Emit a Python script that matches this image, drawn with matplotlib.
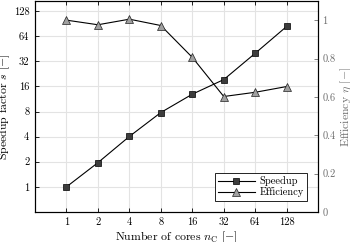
import matplotlib
matplotlib.use('Agg')
import matplotlib.pyplot as plt

plt.rcParams['font.family'] = 'serif'
plt.rcParams['font.serif'] = ['cmr10']
plt.rcParams['mathtext.fontset'] = 'cm'
plt.rcParams['axes.unicode_minus'] = False
plt.rcParams['axes.formatter.use_mathtext'] = True

cores = [1, 2, 4, 8, 16, 32, 64, 128]
speedup = [1.0, 1.95, 4.02, 7.78, 12.9, 19.3, 39.9, 83.7]
efficiency = [1.0, 0.976, 1.005, 0.972, 0.806, 0.602, 0.624, 0.654]
speed_ticks = [1, 2, 4, 8, 16, 32, 64, 128]
eff_ticks = [0, 0.2, 0.4, 0.6, 0.8, 1]
eff_labels = ['0', '0.2', '0.4', '0.6', '0.8', '1']

grey = '#6e6e6e'

fig = plt.figure(figsize=(3.5, 2.42), dpi=100)
ax = fig.add_axes([0.1, 0.124, 0.809, 0.872])
ax2 = ax.twinx()

l1, = ax.plot(cores, speedup, color='black', lw=0.8, marker='s', ms=4,
              mfc='#3c3c3c', mec='black', mew=0.5, label='Speedup')
l2, = ax2.plot(cores, efficiency, color='black', lw=0.8, marker='^', ms=5.5,
               mfc='#a0a0a0', mec='#202020', mew=0.5, label='Efficiency')

ax.set_xscale('log', base=2)
ax.set_yscale('log', base=2)
ax.set_xlim(0.5, 256)
ax.set_ylim(0.5, 2 ** 7.4)
ax.set_xticks(cores)
ax.set_xticklabels([str(c) for c in cores])
ax.set_yticks(speed_ticks)
ax.set_yticklabels([str(s) for s in speed_ticks])
ax.minorticks_off()
ax.grid(True, color='#e3e3e3', lw=0.8)
ax.set_axisbelow(True)
ax.tick_params(direction='in', length=3, width=0.6, labelsize=7.5, top=True, pad=4)

ax2.set_ylim(0, 1.1)
ax2.set_yticks(eff_ticks)
ax2.set_yticklabels(eff_labels)
ax2.tick_params(direction='in', length=3, width=0.6, labelsize=7.5, colors=grey, pad=3)

for a in (ax, ax2):
    for s in a.spines.values():
        s.set_linewidth(0.8)

ax.set_xlabel(r'Number of cores $n_{\mathrm{C}}$ $[-]$', fontsize=8.5, labelpad=2)
ax.set_ylabel(r'Speedup factor $s$ $[-]$', fontsize=8.5, labelpad=1)
ax2.set_ylabel(r'Efficiency $\eta$ $[-]$', fontsize=8.5, color=grey, labelpad=2)

leg = ax.legend(handles=[l1, l2], loc='lower right', fontsize=7.5, fancybox=False,
                edgecolor='black', framealpha=1, borderpad=0.3, handlelength=3.6,
                handletextpad=0.4, labelspacing=0.1, borderaxespad=1.1)
leg.get_frame().set_linewidth(0.6)

fig.savefig('out.png', dpi=100)
